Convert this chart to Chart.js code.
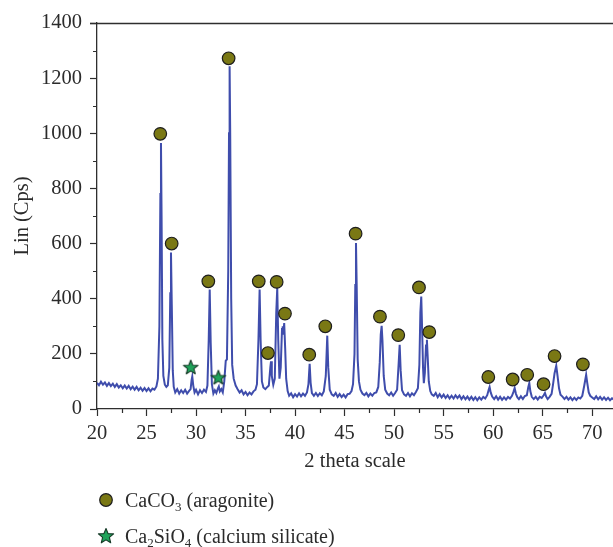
<!DOCTYPE html>
<html>
<head>
<meta charset="utf-8">
<script src="https://cdn.jsdelivr.net/npm/chart.js@4/dist/chart.umd.min.js"></script>
<style>
  html, body { margin: 0; padding: 0; background: #fff; }
  #wrap { position: relative; width: 613px; height: 547px; overflow: hidden; }
  canvas { position: absolute; left: 0; top: 0; }
  .leg { position: absolute; left: 96px; font-family: "Liberation Serif", "DejaVu Serif", serif;
         font-size: 20px; color: #2b2b2b; white-space: nowrap; line-height: 22px; }
  .leg sub { font-size: 13px; vertical-align: -4px; line-height: 0; }
  .ico { display: inline-block; width: 20px; height: 20px; vertical-align: middle; margin-right: 9px; position: relative; top: -2px; }
</style>
</head>
<body>
<div id="wrap">
  <canvas id="c" width="613" height="547"></canvas>
  <div class="leg" style="top:489px">
    <svg class="ico" viewBox="0 0 20 20"><circle cx="10" cy="10" r="6.3" fill="#7a7814" stroke="#1e1e1e" stroke-width="1.2"/></svg>CaCO<sub>3</sub> (aragonite)
  </div>
  <div class="leg" style="top:525px">
    <svg class="ico" viewBox="0 0 20 20"><polygon points="10,2.5 12.1,7.6 17.6,7.9 13.4,11.4 14.7,16.8 10,13.9 5.3,16.8 6.6,11.4 2.4,7.9 7.9,7.6" fill="#1fa35a" stroke="#173a28" stroke-width="1.1" stroke-linejoin="round"/></svg>Ca<sub>2</sub>SiO<sub>4</sub> (calcium silicate)
  </div>
</div>
<script>
// ---------- data ----------
const twoTheta = [
  20.0,20.2,20.4,20.6,20.8,21.0,21.2,21.4,21.6,21.8,22.0,22.2,22.4,22.6,22.8,23.0,23.2,23.4,23.6,23.8,
  24.0,24.2,24.4,24.6,24.8,25.0,25.2,25.4,25.6,25.8,26.0,26.15,26.3,26.4,26.46,26.52,26.6,26.7,26.85,27.0,
  27.15,27.3,27.4,27.47,27.55,27.65,27.75,27.9,28.1,28.3,28.5,28.7,28.9,29.1,29.3,29.45,29.55,29.62,29.72,29.85,
  30.0,30.2,30.4,30.6,30.8,31.0,31.15,31.28,31.38,31.48,31.6,31.75,31.9,32.05,32.2,32.3,32.4,32.55,32.7,32.85,
  33.0,33.12,33.25,33.33,33.39,33.45,33.55,33.65,33.8,34.0,34.2,34.4,34.6,34.8,35.0,35.2,35.4,35.6,35.8,36.0,
  36.15,36.3,36.42,36.52,36.65,36.8,37.0,37.2,37.35,37.5,37.57,37.65,37.8,37.95,38.1,38.2,38.3,38.42,38.55,38.68,
  38.75,38.82,38.9,39.0,39.1,39.25,39.4,39.6,39.8,40.0,40.2,40.4,40.6,40.8,41.0,41.2,41.35,41.47,41.57,41.7,
  41.9,42.1,42.3,42.5,42.7,42.9,43.1,43.25,43.35,43.5,43.7,43.9,44.1,44.3,44.5,44.7,44.9,45.1,45.3,45.5,
  45.7,45.85,46.0,46.08,46.15,46.22,46.32,46.45,46.6,46.8,47.0,47.2,47.4,47.6,47.8,48.0,48.2,48.4,48.55,48.65,
  48.74,48.82,48.95,49.1,49.3,49.5,49.7,49.9,50.1,50.3,50.45,50.56,50.66,50.8,51.0,51.2,51.4,51.6,51.8,52.0,
  52.2,52.4,52.55,52.65,52.74,52.82,52.92,53.0,53.1,53.22,53.31,53.4,53.5,53.65,53.8,54.0,54.2,54.4,54.6,54.8,
  55.0,55.2,55.4,55.6,55.8,56.0,56.2,56.4,56.6,56.8,57.0,57.2,57.4,57.6,57.8,58.0,58.2,58.4,58.6,58.8,
  59.0,59.2,59.4,59.55,59.64,59.75,59.9,60.1,60.3,60.5,60.7,60.9,61.1,61.3,61.5,61.7,61.9,62.05,62.17,62.3,
  62.45,62.6,62.8,63.0,63.2,63.4,63.55,63.65,63.75,63.9,64.1,64.3,64.5,64.7,64.9,65.1,65.23,65.35,65.5,65.7,
  65.9,66.05,66.2,66.37,66.5,66.65,66.8,67.0,67.2,67.4,67.6,67.8,68.0,68.2,68.4,68.6,68.8,69.0,69.2,69.39,
  69.5,69.65,69.8,70.0,70.2,70.4,70.6,70.8,71.0,71.2,71.4,71.6,71.8,72.0,72.2
];
const counts = [
  95,86,99,88,96,84,94,83,92,80,90,78,86,75,85,74,84,72,81,70,
  80,68,77,66,76,65,75,64,74,70,82,110,300,780,965,700,250,120,88,80,
  86,150,420,568,380,140,80,60,72,56,68,58,70,56,66,72,105,118,85,60,
  70,53,68,58,70,62,85,250,433,240,90,56,68,58,74,82,64,72,60,100,
  175,180,500,1000,1243,1000,400,160,110,85,72,60,68,53,62,50,60,53,64,70,
  90,250,433,250,100,78,72,80,85,150,173,120,88,110,350,439,250,110,150,290,
  300,270,312,220,110,65,48,57,43,54,45,57,46,56,48,60,90,164,95,58,
  48,58,47,57,50,64,120,266,150,70,53,48,58,44,54,43,52,42,54,55,
  65,90,200,450,602,450,180,100,70,56,50,58,46,56,48,58,60,80,170,270,
  302,250,120,70,56,50,60,48,58,70,160,233,140,68,53,48,58,46,57,50,
  62,75,160,350,408,300,150,94,130,230,251,180,100,65,53,48,58,43,54,42,
  52,40,50,38,48,38,50,40,49,36,46,35,45,34,44,33,43,32,42,34,
  44,38,50,70,80,60,45,36,46,34,44,33,42,34,44,38,48,62,76,55,
  42,36,46,36,47,50,80,94,65,44,36,44,34,44,40,50,58,45,36,44,
  55,90,130,157,120,75,52,45,36,44,34,42,32,41,33,42,38,48,85,124,
  95,60,48,42,36,46,35,44,34,42,33,41,32,39,34
];
// aragonite (CaCO3) peak markers
const aragoniteX = [26.39,27.54,31.24,33.29,36.33,37.26,38.14,38.98,41.43,43.05,46.11,48.57,50.42,52.51,53.55,59.51,61.97,63.44,65.09,66.20,69.06];
const aragoniteY = [998,600,463,1272,463,203,461,346,197,300,636,335,268,441,279,116,107,124,90,192,162];
// calcium silicate (Ca2SiO4) peak markers
const silicateX = [29.46,32.25];
const silicateY = [152,115];
// axis ticks
const xTicks = [20,25,30,35,40,45,50,55,60,65,70];
const xMinorTicks = [22.5,27.5,32.5,37.5,42.5,47.5,52.5,57.5,62.5,67.5];
const yTicks = [0,200,400,600,800,1000,1200,1400];
const yMinorTicks = [100,300,500,700,900,1100,1300];
const xTitle = '2 theta scale';
const yTitle = 'Lin (Cps)';

// ---------- styling / chart ----------
const axisColor = '#2e2e2e';
const textColor = '#2b2b2b';
const fontFamily = '"Liberation Serif", "DejaVu Serif", serif';
const fontSize = 20.5;

function starImage() {
  const c = document.createElement('canvas');
  c.width = 18; c.height = 18;
  const g = c.getContext('2d');
  const cx = 9, cy = 9.6, R = 7.6, r = 3.3;
  g.beginPath();
  for (let i = 0; i < 10; i++) {
    const rad = i % 2 === 0 ? R : r;
    const a = -Math.PI / 2 + i * Math.PI / 5;
    const px = cx + rad * Math.cos(a), py = cy + rad * Math.sin(a);
    if (i === 0) g.moveTo(px, py); else g.lineTo(px, py);
  }
  g.closePath();
  g.fillStyle = '#1fa35a';
  g.fill();
  g.lineWidth = 1.1;
  g.lineJoin = 'round';
  g.strokeStyle = '#173a28';
  g.stroke();
  return c;
}

const axisDecor = {
  id: 'axisDecor',
  afterDraw(chart) {
    const {ctx, chartArea: a, scales: {x, y}} = chart;
    ctx.save();
    ctx.strokeStyle = axisColor;
    ctx.lineWidth = 1.2;
    ctx.beginPath();
    xMinorTicks.forEach(v => {
      const px = Math.round(x.getPixelForValue(v)) + 0.5;
      ctx.moveTo(px, a.bottom); ctx.lineTo(px, a.bottom + 4);
    });
    yMinorTicks.forEach(v => {
      const py = Math.round(y.getPixelForValue(v)) + 0.5;
      ctx.moveTo(a.left - 4, py); ctx.lineTo(a.left, py);
    });
    ctx.stroke();
    ctx.lineWidth = 1.6;
    ctx.beginPath();
    const ty = Math.round(y.getPixelForValue(1400)) + 0.5;
    ctx.moveTo(a.left - 7, ty); ctx.lineTo(chart.width, ty);
    ctx.stroke();
    ctx.restore();
  }
};

const tracePoints = twoTheta.map((v, i) => ({x: v, y: counts[i]}));
const aragonitePoints = aragoniteX.map((v, i) => ({x: v, y: aragoniteY[i]}));
const silicatePoints = silicateX.map((v, i) => ({x: v, y: silicateY[i]}));

new Chart(document.getElementById('c'), {
  type: 'scatter',
  data: {
    datasets: [
      {
        label: 'CaCO3 (aragonite)',
        data: aragonitePoints,
        pointStyle: 'circle',
        pointRadius: 6.3,
        backgroundColor: '#7a7814',
        borderColor: '#1e1e1e',
        borderWidth: 1.2,
        order: 1
      },
      {
        label: 'Ca2SiO4 (calcium silicate)',
        data: silicatePoints,
        pointStyle: starImage(),
        order: 1
      },
      {
        type: 'line',
        label: 'XRD',
        data: tracePoints,
        borderColor: '#3f4dac',
        borderWidth: 2,
        pointRadius: 0,
        tension: 0,
        fill: false,
        order: 2
      }
    ]
  },
  options: {
    responsive: false,
    animation: false,
    devicePixelRatio: 1,
    layout: { autoPadding: false, padding: { left: 0, right: 0, top: 23, bottom: 73 } },
    plugins: { legend: { display: false }, tooltip: { enabled: false } },
    scales: {
      x: {
        type: 'linear',
        min: 20, max: 72.1,
        afterBuildTicks: s => { s.ticks = xTicks.map(v => ({value: v})); },
        afterFit: s => { s.height = 65; s.paddingLeft = 0; s.paddingRight = 0; },
        grid: { drawOnChartArea: false, drawTicks: true, tickLength: 7, color: axisColor, tickWidth: 1.2 },
        border: { display: true, color: axisColor, width: 1.3 },
        ticks: { color: textColor, padding: 5, maxRotation: 0, callback: v => String(v),
                 font: { family: fontFamily, size: fontSize } },
        title: { display: true, text: xTitle, color: textColor, padding: { top: 0, bottom: 0 },
                 font: { family: fontFamily, size: fontSize } }
      },
      y: {
        type: 'linear',
        min: 0, max: 1400,
        afterBuildTicks: s => { s.ticks = yTicks.map(v => ({value: v})); },
        afterFit: s => { s.width = 97; s.paddingTop = 0; s.paddingBottom = 0; },
        grid: { drawOnChartArea: false, drawTicks: true, tickLength: 7, color: axisColor, tickWidth: 1.2 },
        border: { display: true, color: axisColor, width: 1.3 },
        ticks: { color: textColor, padding: 8, callback: v => String(v),
                 font: { family: fontFamily, size: fontSize } },
        title: { display: true, text: yTitle, color: textColor, padding: { top: 10, bottom: 0 },
                 font: { family: fontFamily, size: fontSize } }
      }
    }
  },
  plugins: [axisDecor]
});
</script>
</body>
</html>
